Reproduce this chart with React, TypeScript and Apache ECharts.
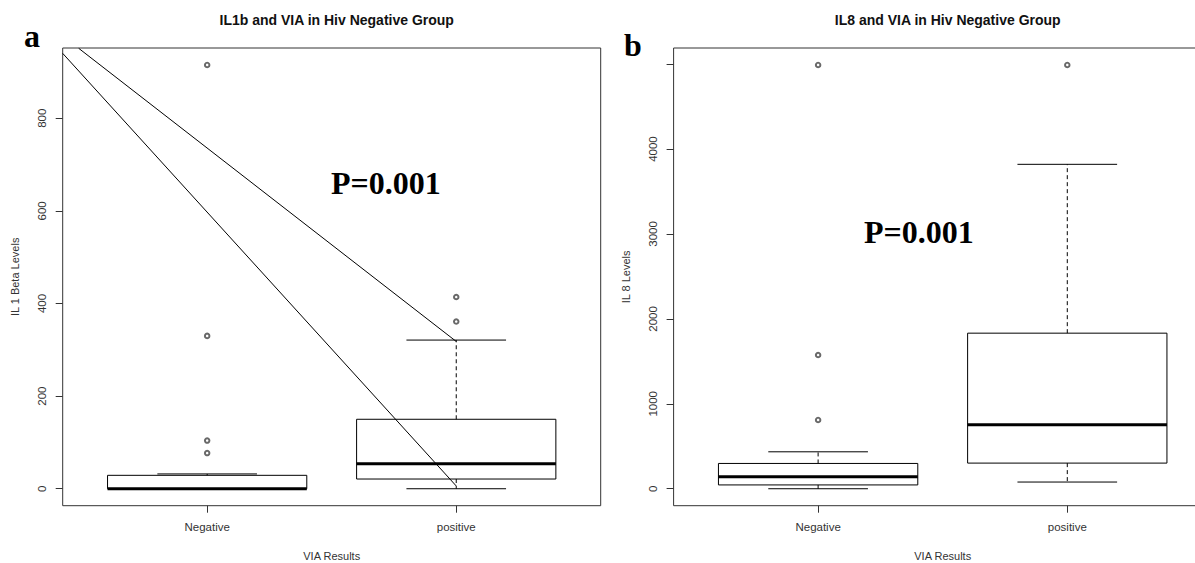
import React, { useEffect, useRef } from "react";
import * as echarts from "echarts";

// ---- data ----
const categories = ["Negative", "positive"];
const il1bTitle = "IL1b and VIA in Hiv Negative Group";
const il8Title = "IL8 and VIA in Hiv Negative Group";
// [min whisker, Q1, median, Q3, max whisker]
const il1bBox = [
  [0, 0, 0, 29, 32],
  [0, 21, 54, 150, 321],
];
const il1bOutliers = [
  [1, 915],
  [1, 330],
  [1, 104],
  [1, 77],
  [2, 414],
  [2, 361],
];
const il8Box = [
  [0, 45, 140, 298, 435],
  [79, 302, 753, 1832, 3820],
];
const il8Outliers = [
  [1, 4990],
  [1, 1575],
  [1, 810],
  [2, 4990],
];
// hand-drawn annotation lines in panel a: [x, y] endpoints
const il1bLineA = [
  [0.42, 940],
  [2.0, 6],
];
const il1bLineB = [
  [0.484, 951],
  [2.0, 318],
];
const il1bTicks = [0, 200, 400, 600, 800];
const il8Ticks = [0, 1000, 2000, 3000, 4000, 5000];
const il8TickLabels = [0, 1000, 2000, 3000, 4000];
const xRange = [0.42, 2.58];
const il1bRange = [-36.6, 951.6];
const il8Range = [-199.6, 5189.6];
const pText = "P=0.001";

const SANS = "'Liberation Sans', Arial, sans-serif";
const SERIF = "'Liberation Serif', 'Times New Roman', serif";
const TXT = "#333";

function boxRender(params: any, api: any) {
  const x = api.value(0);
  const lo = api.value(1);
  const q1 = api.value(2);
  const med = api.value(3);
  const q3 = api.value(4);
  const hi = api.value(5);
  const half = 0.4;
  const cap = 0.2;
  const [xl, yq3] = api.coord([x - half, q3]);
  const [xr, yq1] = api.coord([x + half, q1]);
  const [xc, ymed] = api.coord([x, med]);
  const yhi = api.coord([x, hi])[1];
  const ylo = api.coord([x, lo])[1];
  const cl = api.coord([x - cap, hi])[0];
  const cr = api.coord([x + cap, hi])[0];
  const solid = { stroke: "#000", lineWidth: 1, fill: "none" };
  const dashed = { stroke: "#000", lineWidth: 1, lineDash: [4, 3], fill: "none" };
  return {
    type: "group",
    children: [
      { type: "line", shape: { x1: xc, y1: yq3, x2: xc, y2: yhi }, style: dashed },
      { type: "line", shape: { x1: xc, y1: yq1, x2: xc, y2: ylo }, style: dashed },
      { type: "line", shape: { x1: cl, y1: yhi, x2: cr, y2: yhi }, style: solid },
      { type: "line", shape: { x1: cl, y1: ylo, x2: cr, y2: ylo }, style: solid },
      {
        type: "rect",
        shape: { x: xl, y: yq3, width: xr - xl, height: yq1 - yq3 },
        style: solid,
      },
      { type: "line", shape: { x1: xl, y1: ymed, x2: xr, y2: ymed }, style: { stroke: "#000", lineWidth: 3 } },
    ],
  };
}

function makeX(gridIndex: number) {
  return {
    gridIndex,
    type: "value",
    min: xRange[0],
    max: xRange[1],
    axisLine: { show: false, onZero: false },
    splitLine: { show: false },
    axisTick: { show: true, customValues: [1, 2], length: 7, lineStyle: { color: "#333" } },
    axisLabel: {
      show: true,
      customValues: [1, 2],
      formatter: (v: number) => categories[Math.round(v) - 1] ?? "",
      margin: 15,
      fontSize: 11.5,
      color: TXT,
      fontFamily: SANS,
    },
    name: "VIA Results",
    nameLocation: "middle",
    nameGap: 45,
    nameTextStyle: { fontSize: 11, color: TXT, fontFamily: SANS },
  };
}

function makeY(gridIndex: number, range: number[], ticks: number[], labels: number[], name: string) {
  return {
    gridIndex,
    type: "value",
    min: range[0],
    max: range[1],
    axisLine: { show: false, onZero: false },
    splitLine: { show: false },
    axisTick: { show: true, customValues: ticks, length: 7, lineStyle: { color: "#333" } },
    axisLabel: {
      show: true,
      customValues: labels,
      formatter: (v: number) => String(v),
      rotate: 90,
      margin: 15,
      fontSize: 11.5,
      color: TXT,
      fontFamily: SANS,
    },
    name,
    nameLocation: "middle",
    nameRotate: 90,
    nameGap: 42,
    nameTextStyle: { fontSize: 11, color: TXT, fontFamily: SANS },
  };
}

export default function App() {
  const ref = useRef<HTMLDivElement>(null);
  useEffect(() => {
    if (!ref.current) return;
    const chart = echarts.init(ref.current, undefined, { renderer: "svg" });
    const gridBase = {
      top: 48,
      height: 457.7,
      show: true,
      borderColor: "#333",
      borderWidth: 1,
      backgroundColor: "transparent",
      containLabel: false,
      outerBoundsMode: "none",
    };
    const outlierStyle = { color: "#444", borderColor: "#444", borderWidth: 0.7 };
    chart.setOption({
      animation: false,
      backgroundColor: "#fff",
      title: [
        {
          text: il1bTitle,
          left: 331.7,
          top: 8,
          textAlign: "center",
          textStyle: { fontSize: 14, fontWeight: "bold", color: "#111", fontFamily: SANS },
        },
        {
          text: il8Title,
          left: 942.7,
          top: 8,
          textAlign: "center",
          textStyle: { fontSize: 14, fontWeight: "bold", color: "#111", fontFamily: SANS },
        },
      ],
      grid: [
        { ...gridBase, left: 62.7, width: 538 },
        { ...gridBase, left: 673.6, width: 538.2 },
      ],
      xAxis: [makeX(0), makeX(1)],
      yAxis: [
        makeY(0, il1bRange, il1bTicks, il1bTicks, "IL 1 Beta Levels"),
        makeY(1, il8Range, il8Ticks, il8TickLabels, "IL 8 Levels"),
      ],
      series: [
        {
          type: "custom",
          xAxisIndex: 0,
          yAxisIndex: 0,
          renderItem: boxRender,
          encode: { x: 0, y: [1, 2, 3, 4, 5] },
          data: il1bBox.map((b, i) => [i + 1, ...b]),
          z: 2,
        },
        {
          type: "scatter",
          xAxisIndex: 0,
          yAxisIndex: 0,
          symbol: "emptyCircle",
          symbolSize: 4.5,
          itemStyle: outlierStyle,
          data: il1bOutliers,
        },
        {
          type: "line",
          xAxisIndex: 0,
          yAxisIndex: 0,
          symbol: "none",
          lineStyle: { color: "#000", width: 1 },
          data: il1bLineA,
          z: 3,
        },
        {
          type: "line",
          xAxisIndex: 0,
          yAxisIndex: 0,
          symbol: "none",
          lineStyle: { color: "#000", width: 1 },
          data: il1bLineB,
          z: 3,
        },
        {
          type: "custom",
          xAxisIndex: 1,
          yAxisIndex: 1,
          renderItem: boxRender,
          encode: { x: 0, y: [1, 2, 3, 4, 5] },
          data: il8Box.map((b, i) => [i + 1, ...b]),
          z: 2,
        },
        {
          type: "scatter",
          xAxisIndex: 1,
          yAxisIndex: 1,
          symbol: "emptyCircle",
          symbolSize: 4.5,
          itemStyle: outlierStyle,
          data: il8Outliers,
        },
      ],
      graphic: [
        {
          type: "text",
          x: 24,
          y: 36,
          style: { text: "a", font: `bold 32px ${SERIF}`, fill: "#000", align: "left", verticalAlign: "middle" },
        },
        {
          type: "text",
          x: 624,
          y: 45,
          style: { text: "b", font: `bold 32px ${SERIF}`, fill: "#000", align: "left", verticalAlign: "middle" },
        },
        {
          type: "text",
          x: 331,
          y: 183,
          style: { text: pText, font: `bold 32px ${SERIF}`, fill: "#000", align: "left", verticalAlign: "middle" },
        },
        {
          type: "text",
          x: 864,
          y: 231.5,
          style: { text: pText, font: `bold 32px ${SERIF}`, fill: "#000", align: "left", verticalAlign: "middle" },
        },
      ],
    });
    return () => chart.dispose();
  }, []);
  return (
    <div
      ref={ref}
      style={{ position: "fixed", left: 0, top: 0, width: 1195, height: 563, background: "#fff" }}
    />
  );
}
